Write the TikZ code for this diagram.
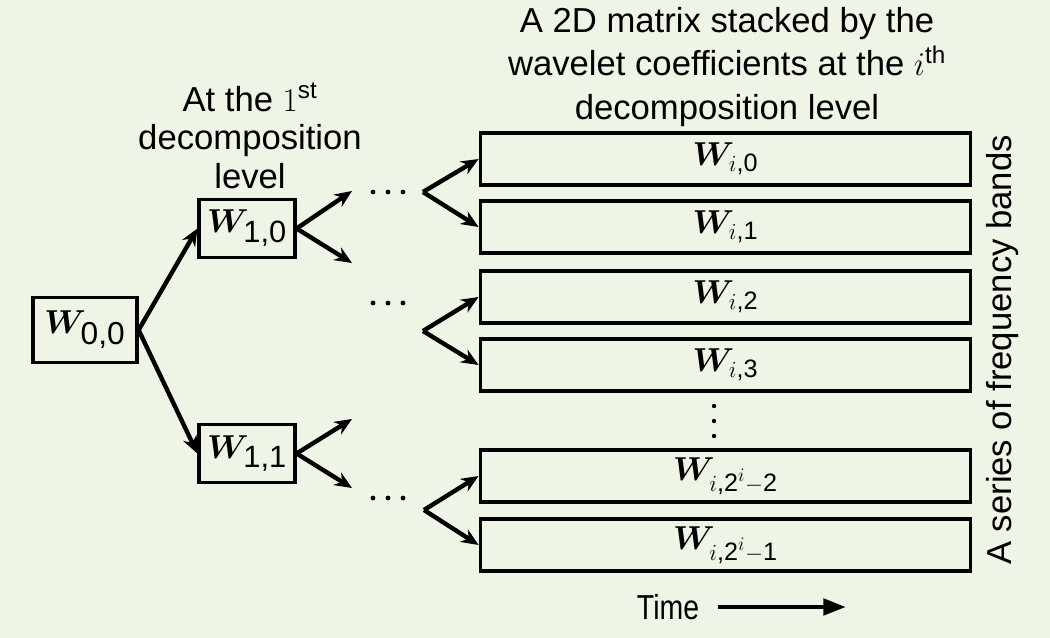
\documentclass[tikz,border=0pt]{standalone}
\usepackage{amsmath,bm}
\usepackage{fontspec}
\setmainfont{Liberation Sans}
\usetikzlibrary{arrows.meta}
\definecolor{bg}{RGB}{238,245,230}
\begin{document}
\begin{tikzpicture}[x=0.75pt,y=-0.75pt,
  box/.style={draw,line width=2.4pt,inner sep=0pt},
  lvl/.style={box,minimum width=72pt,minimum height=44pt,font=\fontsize{33}{36}\selectfont},
  row/.style={box,minimum width=368pt,minimum height=39pt,font=\fontsize{27}{30}\selectfont},
  arr/.style={line width=3.3pt,-{Stealth[length=13pt,width=11pt]}},
  lbl/.style={align=center,font=\fontsize{26}{29}\selectfont},
]
\fill[bg] (0,0) rectangle (1050,638);
\useasboundingbox (0,0) rectangle (1050,638);

% tree nodes
\node[box,minimum width=78pt,minimum height=49pt,font=\fontsize{34}{36}\selectfont] (w00) at (85,330) {$\boldsymbol{W}_{\text{0,0}}$};
\node[lvl] (w10) at (247,228.5) {$\boldsymbol{W}_{\text{1,0}}$};
\node[lvl] (w11) at (247,453.5) {$\boldsymbol{W}_{\text{1,1}}$};

% matrix rows
\node[row] (r0) at (725.5,159) {$\boldsymbol{W}_{i\text{,0}}$};
\node[row] (r1) at (725.5,227) {$\boldsymbol{W}_{i\text{,1}}$};
\node[row] (r2) at (725.5,297) {$\boldsymbol{W}_{i\text{,2}}$};
\node[row] (r3) at (725.5,365) {$\boldsymbol{W}_{i\text{,3}}$};
\node[row] (r4) at (725.5,476) {$\boldsymbol{W}_{i\text{,2}^{i}-\text{2}}$};
\node[row] (r5) at (725.5,545) {$\boldsymbol{W}_{i\text{,2}^{i}-\text{1}}$};

% vertical dots
\foreach \yy in {406,421,436} \fill (714,\yy) circle (2.2);

% horizontal dots
\foreach \yy in {192,303,498} {
  \foreach \xx in {373,388,403} \fill (\xx,\yy) circle (2.4);
}

% arrows from root
\draw[arr] (w00.east) -- (w10.west);
\draw[arr] (w00.east) -- (w11.west);

% arrows from level 1
\coordinate (a1) at (352,191);
\coordinate (a2) at (352,263);
\coordinate (a3) at (352,419);
\coordinate (a4) at (352,488);
\draw[arr] (w10.east) -- (a1);
\draw[arr] (w10.east) -- (a2);
\draw[arr] (w11.east) -- (a3);
\draw[arr] (w11.east) -- (a4);

% forks into the matrix rows
\coordinate (f1) at (423,192);
\coordinate (f2) at (423,331);
\coordinate (f3) at (424,510);
\draw[arr] (f1) -- (r0.west);
\draw[arr] (f1) -- (r1.west);
\draw[arr] (f2) -- (r2.west);
\draw[arr] (f2) -- (r3.west);
\draw[arr] (f3) -- (r4.west);
\draw[arr] (f3) -- (r5.west);

% labels
\node[lbl] (lev1) at (250,136) {At the $1$\textsuperscript{st}\\decomposition\\level};
\node[lbl,font=\fontsize{26}{32.5}\selectfont] (title) at (727,67) {A 2D matrix stacked by the\\wavelet coefficients at the $i$\textsuperscript{th}\\decomposition level};
\node[lbl,rotate=90] (side) at (1003,350) {A series of frequency bands};
\node[lbl] (time) at (668,607) {\scalebox{0.82}[1]{Time}};
\coordinate (t1) at (718,607);
\coordinate (t2) at (846,607);
\draw[line width=3.6pt,-{Triangle[length=17pt,width=12pt]}] (t1) -- (t2);
\end{tikzpicture}
\end{document}
